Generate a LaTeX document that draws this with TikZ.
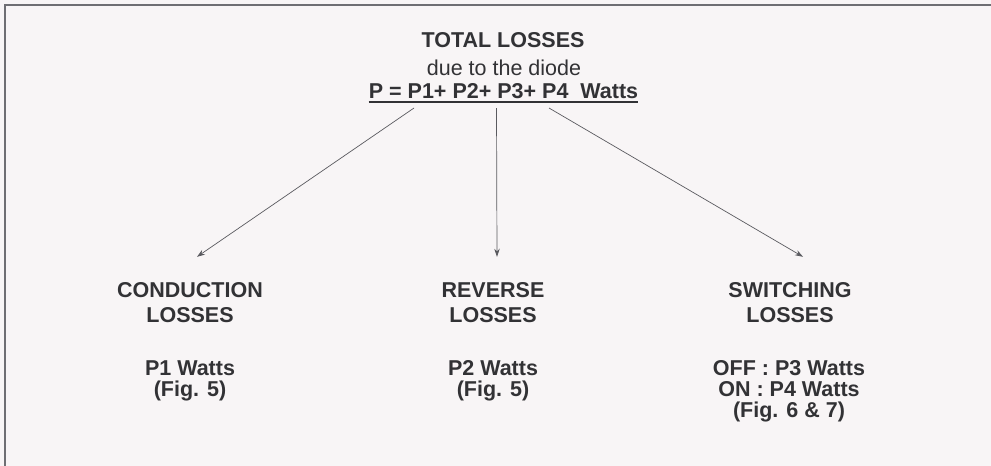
\documentclass[tikz,border=0pt]{standalone}
\usepackage{fontspec}
\setmainfont{Liberation Sans}
\usetikzlibrary{arrows.meta}
\definecolor{bgc}{RGB}{248,245,246}
\definecolor{txt}{RGB}{50,50,53}
\definecolor{framec}{RGB}{110,110,115}
\definecolor{arr}{RGB}{90,90,95}
\tikzset{
  hd/.style={anchor=base, inner sep=0pt, text=txt, font=\bfseries\fontsize{21.5}{23}\selectfont},
  sub/.style={anchor=base, inner sep=0pt, text=txt, font=\fontsize{21.5}{23}\selectfont},
  conn/.style={draw=arr, line width=0.7pt, -{Stealth[length=8pt,width=5.5pt]}},
  uline/.style={draw=txt, line width=1.3pt},
  frameline/.style={draw=framec, line width=1.8pt}
}
\begin{document}
\begin{tikzpicture}[x=1pt,y=-1pt]
\useasboundingbox (0,0) rectangle (991,466);
\fill[bgc] (0,0) rectangle (991,466);
\draw[frameline] (5,466) -- (5,5) -- (991,5);
% top block
\node[hd] (title) at (503,47) {TOTAL LOSSES};
\node[sub] (due) at (504,75) {due to the diode};
\node[hd] (formula) at (503.5,98) {P = P1+ P2+ P3+ P4\ \ Watts};
\draw[uline] ([yshift=-4pt]formula.base west) -- ([yshift=-4pt]formula.base east);
% conduction
\node[hd] (cond1) at (190,297) {CONDUCTION};
\node[hd] (cond2) at (190,322) {LOSSES};
\node[hd] (cond3) at (190,375) {P1 Watts};
\node[hd] (cond4) at (190,396) {(Fig. 5)};
% reverse
\node[hd] (rev1) at (493,297) {REVERSE};
\node[hd] (rev2) at (493,322) {LOSSES};
\node[hd] (rev3) at (493,375) {P2 Watts};
\node[hd] (rev4) at (493,396) {(Fig. 5)};
% switching
\node[hd] (sw1) at (790,297) {SWITCHING};
\node[hd] (sw2) at (790,322) {LOSSES};
\node[hd] (sw3) at (789,375) {OFF : P3 Watts};
\node[hd] (sw4) at (789,396) {ON : P4 Watts};
\node[hd] (sw5) at (789,417) {(Fig. 6 \& 7)};
% connectors
\draw[conn] ([xshift=-89.5pt,yshift=-10pt]formula.base) -- ([xshift=7pt,yshift=25pt]cond1.north);
\draw[conn] ([xshift=-7pt,yshift=-10pt]formula.base) -- ([xshift=4pt,yshift=25pt]rev1.north);
\draw[conn] ([xshift=45.5pt,yshift=-10pt]formula.base) -- ([xshift=13pt,yshift=25pt]sw1.north);
\end{tikzpicture}
\end{document}
